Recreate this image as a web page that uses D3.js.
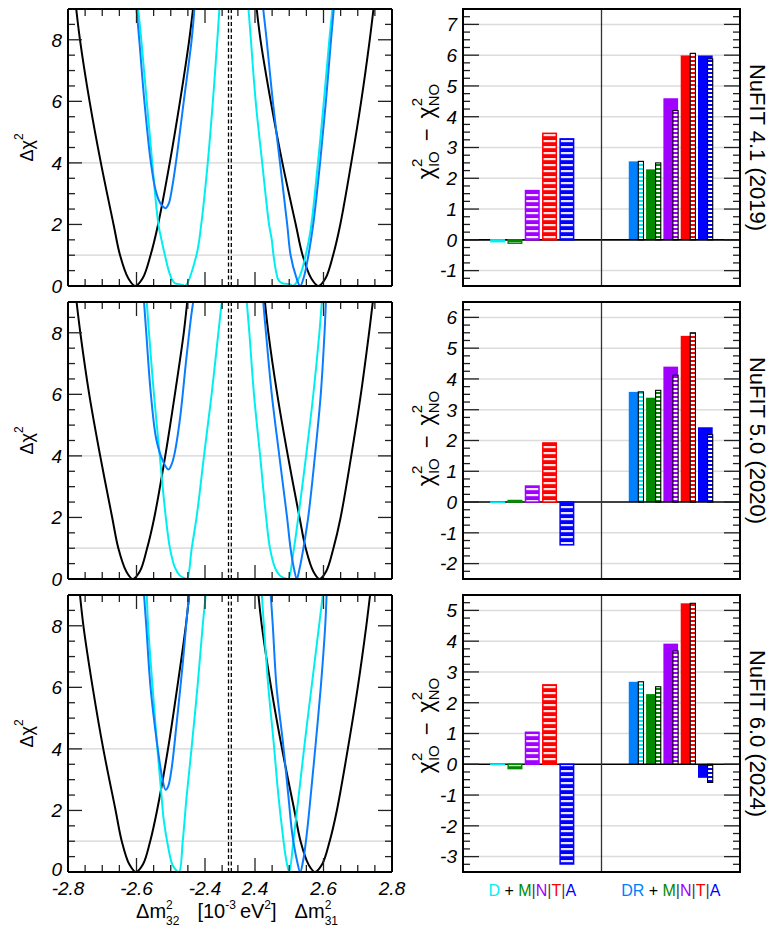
<!DOCTYPE html>
<html>
<head>
<meta charset="utf-8">
<script src="https://cdn.jsdelivr.net/npm/d3@7"></script>
<style>
  body { margin: 0; background: #fff; }
  svg { display: block; }
  text { font-family: "Liberation Sans", Arial, Helvetica, sans-serif; white-space: pre; }
</style>
</head>
<body>
<svg id="chart" width="770" height="930"></svg>
<script>
// ---------- labels ----------
const fitLabels = ["NuFIT 4.1 (2019)", "NuFIT 5.0 (2020)", "NuFIT 6.0 (2024)"];
const chiTicks = [0, 2, 4, 6, 8];
const massTicksIO = [-2.8, -2.6, -2.4];
const massTicksNO = [2.4, 2.6, 2.8];

// ---------- Δχ² profiles: [Δm², Δχ²] ----------
// NuFIT 4.1
const blk41IO = [[-2.776,9],[-2.765,8],[-2.737,6],[-2.704,4],[-2.667,2],[-2.648,1],[-2.624,0.25],[-2.604,0],[-2.582,0.25],[-2.559,1],[-2.537,2],[-2.503,4],[-2.473,6],[-2.446,8],[-2.435,9]];
const cyn41IO = [[-2.595,9],[-2.586,8],[-2.570,6],[-2.554,4],[-2.536,2],[-2.527,1.5],[-2.517,1],[-2.506,0.5],[-2.496,0.2],[-2.488,0.09],[-2.476,0.06],[-2.465,0.03],[-2.458,0],[-2.425,1],[-2.411,2],[-2.392,4],[-2.377,6],[-2.364,8],[-2.358,9]];
const blu41IO = [[-2.600,9],[-2.592,8],[-2.577,6],[-2.558,4],[-2.544,3.1],[-2.531,2.7],[-2.515,2.53],[-2.506,2.67],[-2.497,3.13],[-2.485,4],[-2.462,6],[-2.439,8],[-2.431,9]];
const blk41NO = [[2.405,9],[2.416,8],[2.446,6],[2.480,4],[2.519,2],[2.539,1],[2.564,0.25],[2.585,0],[2.606,0.25],[2.628,1],[2.649,2],[2.681,4],[2.710,6],[2.735,8],[2.746,9]];
const cyn41NO = [[2.381,9],[2.388,8],[2.402,6],[2.421,4],[2.441,2],[2.449,1.5],[2.454,1],[2.461,0.5],[2.468,0.2],[2.477,0.1],[2.490,0.07],[2.503,0.05],[2.511,0],[2.530,0.3],[2.548,1],[2.562,1.8],[2.582,3.8],[2.601,6],[2.617,8],[2.626,9]];
const blu41NO = [[2.424,9],[2.434,8],[2.452,6],[2.473,4],[2.494,2],[2.504,1],[2.520,0.3],[2.532,0],[2.543,0.3],[2.556,1],[2.570,2],[2.590,4],[2.607,6],[2.622,8],[2.630,9]];
// NuFIT 5.0
const blk50IO = [[-2.775,9],[-2.764,8],[-2.738,6],[-2.706,4],[-2.671,2],[-2.653,1],[-2.630,0.25],[-2.611,0],[-2.590,0.25],[-2.569,1],[-2.548,2],[-2.516,4],[-2.488,6],[-2.462,8],[-2.452,9]];
const cyn50IO = [[-2.570,9],[-2.5635,8],[-2.549,6],[-2.532,4],[-2.515,2.06],[-2.502,0.98],[-2.488,0.38],[-2.473,0.11],[-2.458,0.02],[-2.452,0],[-2.439,0.98],[-2.424,2.06],[-2.403,3.99],[-2.381,5.97],[-2.361,8],[-2.351,9]];
const blu50IO = [[-2.578,9],[-2.5715,8],[-2.558,6],[-2.5415,4.5],[-2.5215,3.8],[-2.507,3.56],[-2.497,3.74],[-2.488,4.12],[-2.473,5.21],[-2.4545,7.16],[-2.440,8.57],[-2.4345,9]];
const blk50NO = [[2.429,9],[2.439,8],[2.465,6],[2.496,4],[2.530,2],[2.548,1],[2.570,0.25],[2.588,0],[2.608,0.25],[2.629,1],[2.650,2],[2.681,4],[2.709,6],[2.733,8],[2.744,9]];
const cyn50NO = [[2.376,9],[2.3835,8],[2.397,6],[2.415,4],[2.432,2.06],[2.444,0.98],[2.459,0.35],[2.473,0.11],[2.488,0.02],[2.497,0],[2.512,0.87],[2.527,2.06],[2.549,3.99],[2.570,5.97],[2.588,8],[2.595,9]];
const blu50NO = [[2.424,9],[2.432,8],[2.449,6],[2.471,4],[2.493,2.06],[2.504,0.98],[2.514,0.33],[2.522,0],[2.530,0.33],[2.541,0.98],[2.556,2.06],[2.575,4],[2.592,6],[2.603,8],[2.607,9]];
// NuFIT 6.0
const blk60IO = [[-2.765,9],[-2.755,8],[-2.728,6],[-2.697,4],[-2.661,2],[-2.643,1],[-2.621,0.25],[-2.602,0],[-2.581,0.25],[-2.560,1],[-2.540,2],[-2.508,4],[-2.481,6],[-2.456,8],[-2.446,9]];
const cyn60IO = [[-2.570,9],[-2.566,8],[-2.553,6],[-2.541,4.27],[-2.529,2.74],[-2.520,1.65],[-2.507,0.78],[-2.497,0.29],[-2.488,0.11],[-2.476,0],[-2.465,1],[-2.454,2.42],[-2.439,4.05],[-2.422,6.01],[-2.407,7.97],[-2.398,9]];
const blu60IO = [[-2.578,9],[-2.5715,8],[-2.559,6],[-2.541,4.27],[-2.525,3.07],[-2.515,2.67],[-2.507,2.8],[-2.497,3.4],[-2.483,4.81],[-2.465,6.77],[-2.452,8.4],[-2.446,9]];
const blk60NO = [[2.410,9],[2.420,8],[2.447,6],[2.479,4],[2.515,2],[2.533,1],[2.556,0.25],[2.575,0],[2.596,0.25],[2.618,1],[2.639,2],[2.671,4],[2.700,6],[2.725,8],[2.736,9]];
const cyn60NO = [[2.420,9],[2.426,8],[2.439,6],[2.454,4.27],[2.468,2.52],[2.481,1.22],[2.491,0.4],[2.500,0],[2.512,1],[2.527,2.42],[2.546,4.27],[2.565,6],[2.587,8],[2.598,9]];
const blu60NO = [[2.446,9],[2.452,8],[2.463,6],[2.481,4.27],[2.497,2.52],[2.509,1.22],[2.522,0.4],[2.532,0],[2.541,0.4],[2.551,1.22],[2.563,2.52],[2.578,4.27],[2.592,6],[2.605,8],[2.609,9]];

// ---------- χ²(IO) − χ²(NO) bars ----------
const barSeries = ["D", "M", "N", "T", "A"];
const dmnta41 = [-0.06, -0.11, 1.60, 3.46, 3.28];
const dmnta50 = [-0.01, 0.05, 0.52, 1.92, -1.39];
const dmnta60 = [-0.01, -0.14, 1.04, 2.58, -3.24];
const drSolid41 = [2.55, 2.29, 4.60, 5.99, 5.99];
const drHatch41 = [2.55, 2.50, 4.20, 6.06, 5.88];
const drSolid50 = [3.58, 3.39, 4.40, 5.40, 2.43];
const drHatch50 = [3.58, 3.63, 4.12, 5.50, 2.19];
const drSolid60 = [2.68, 2.28, 3.92, 5.23, -0.44];
const drHatch60 = [2.68, 2.52, 3.68, 5.23, -0.59];
const barRange41 = [-1.5, 7.5];
const barRange50 = [-2.5, 6.5];
const barRange60 = [-3.5, 5.5];

// ---------- colours ----------
const curveColors = ["#000000", "#00eef0", "#0a7dff"];
const hatchColors = ["#00eef0", "#008a00", "#a000ff", "#ff0000", "#0000ff"];
const solidColors = ["#0080ff", "#008a00", "#a000ff", "#ff0000", "#0000ff"];

const rows = [
  { fit: fitLabels[0], io: [blk41IO, cyn41IO, blu41IO], no: [blk41NO, cyn41NO, blu41NO],
    d: dmnta41, drS: drSolid41, drH: drHatch41, range: barRange41, titleShift: -16 },
  { fit: fitLabels[1], io: [blk50IO, cyn50IO, blu50IO], no: [blk50NO, cyn50NO, blu50NO],
    d: dmnta50, drS: drSolid50, drH: drHatch50, range: barRange50, titleShift: -2 },
  { fit: fitLabels[2], io: [blk60IO, cyn60IO, blu60IO], no: [blk60NO, cyn60NO, blu60NO],
    d: dmnta60, drS: drSolid60, drH: drHatch60, range: barRange60, titleShift: -8 }
];

// ---------- layout ----------
const rowTop = [9, 302, 595];
const rowH = 277;
const L0 = 68, Lmid = 228.5, Rmid = 231.3, R1 = 392;     // Δχ² panel
const B0 = 463, B1 = 740;                                  // bar panel
const tickCol = "#222";

const svg = d3.select("#chart");
const defs = svg.append("defs");

// stripe patterns
hatchColors.forEach((c, i) => {
  const p = defs.append("pattern").attr("id", "hd" + i)
    .attr("patternUnits", "userSpaceOnUse").attr("width", 20).attr("height", 6);
  p.append("rect").attr("width", 20).attr("height", 6).attr("fill", c);
  p.append("rect").attr("y", 2).attr("width", 20).attr("height", 2.2).attr("fill", "#fff").attr("opacity", 0.9);
  const q = defs.append("pattern").attr("id", "hr" + i)
    .attr("patternUnits", "userSpaceOnUse").attr("width", 20).attr("height", 4);
  q.append("rect").attr("width", 20).attr("height", 4).attr("fill", c);
  q.append("rect").attr("y", 2).attr("width", 20).attr("height", 2).attr("fill", "#fff");
});

// text made of pieces with super/subscripts; returns group
function rich(parent, segs, x, y, rot, anchor) {
  const g = parent.append("g").attr("transform", `translate(${x},${y}) rotate(${rot})`);
  let cx = 0, lastStart = 0;
  segs.forEach(s => {
    const start = s.stack ? lastStart : cx + (s.dx || 0);
    const t = g.append("text").attr("x", start).attr("y", -(s.up || 0))
      .attr("font-size", s.fs).attr("fill", s.fill || "#000").text(s.t);
    if (s.italic) t.attr("font-style", "italic");
    const w = t.node().getComputedTextLength();
    if (s.stack) cx = Math.max(cx, start + w);
    else { lastStart = start; cx = start + w; }
  });
  const shift = anchor === "middle" ? -cx / 2 : 0;
  g.selectAll("text").attr("x", function () { return +this.getAttribute("x") + shift; });
  return g;
}

rows.forEach((row, r) => {
  const top = rowTop[r], bot = top + rowH;
  const g = svg.append("g");

  // ===== Δχ² panel =====
  const y = d3.scaleLinear([0, 9], [bot, top]);
  const xIO = d3.scaleLinear([-2.8, -2.8 + (Lmid - L0) / 342.5], [L0, Lmid]);
  const xNO = d3.scaleLinear([2.8 - (R1 - Rmid) / 342.5, 2.8], [Rmid, R1]);

  // reference levels
  [1, 4].forEach(v => {
    g.append("line").attr("x1", L0).attr("x2", R1).attr("y1", y(v)).attr("y2", y(v))
      .attr("stroke", "#d4d4d4").attr("stroke-width", 1.2);
  });

  const clipIO = "cio" + r, clipNO = "cno" + r;
  defs.append("clipPath").attr("id", clipIO).append("rect")
    .attr("x", L0).attr("y", top).attr("width", Lmid - L0).attr("height", rowH);
  defs.append("clipPath").attr("id", clipNO).append("rect")
    .attr("x", Rmid).attr("y", top).attr("width", R1 - Rmid).attr("height", rowH);

  const drawCurves = (sets, xs, clip) => {
    const line = d3.line().x(d => xs(d[0])).y(d => y(d[1])).curve(d3.curveCatmullRom.alpha(0.5));
    const cg = g.append("g").attr("clip-path", `url(#${clip})`);
    sets.forEach((pts, k) => {
      cg.append("path").attr("d", line(pts)).attr("fill", "none")
        .attr("stroke", curveColors[k]).attr("stroke-width", 2).attr("stroke-linejoin", "round");
    });
  };
  drawCurves(row.io, xIO, clipIO);
  drawCurves(row.no, xNO, clipNO);

  // y ticks (both sides)
  d3.range(0, 19).map(i => i * 0.5).forEach(v => {
    const major = v % 2 === 0;
    const len = major ? 14 : 7;
    g.append("line").attr("x1", L0).attr("x2", L0 + len).attr("y1", y(v)).attr("y2", y(v))
      .attr("stroke", tickCol).attr("stroke-width", 1.3);
    g.append("line").attr("x1", R1).attr("x2", R1 - len).attr("y1", y(v)).attr("y2", y(v))
      .attr("stroke", tickCol).attr("stroke-width", 1.3);
  });
  chiTicks.forEach(v => {
    g.append("text").attr("x", L0 - 6).attr("y", y(v)).attr("dy", v === 0 && r === 2 ? "0.2em" : "0.36em")
      .attr("text-anchor", "end").attr("font-size", 19).attr("font-style", "italic").text(v);
  });

  // x ticks (top and bottom)
  const xTick = (xs, v, major) => {
    const len = major ? 14 : 7;
    [[bot, -1], [top, 1]].forEach(([yy, dir]) => {
      g.append("line").attr("x1", xs(v)).attr("x2", xs(v)).attr("y1", yy).attr("y2", yy + dir * len)
        .attr("stroke", tickCol).attr("stroke-width", 1.3);
    });
  };
  d3.range(1, 10).forEach(i => {
    const v = -2.8 + i * 0.05;
    xTick(xIO, v, Math.abs(v - Math.round(v * 5) / 5) < 1e-6);
  });
  d3.range(0, 9).forEach(i => {
    const v = 2.35 + i * 0.05;
    xTick(xNO, v, Math.abs(v - Math.round(v * 5) / 5) < 1e-6);
  });

  // frame
  g.append("line").attr("x1", L0).attr("x2", R1).attr("y1", top).attr("y2", top).attr("stroke", "#000").attr("stroke-width", 2);
  g.append("line").attr("x1", L0).attr("x2", R1).attr("y1", bot).attr("y2", bot).attr("stroke", "#000").attr("stroke-width", 2);
  g.append("line").attr("x1", L0).attr("x2", L0).attr("y1", top).attr("y2", bot).attr("stroke", "#000").attr("stroke-width", 2);
  g.append("line").attr("x1", R1).attr("x2", R1).attr("y1", top).attr("y2", bot).attr("stroke", "#000").attr("stroke-width", 2);
  [Lmid, Rmid].forEach(xx => {
    g.append("line").attr("x1", xx).attr("x2", xx).attr("y1", top).attr("y2", bot)
      .attr("stroke", "#000").attr("stroke-width", 1.3).attr("stroke-dasharray", "4,2.5");
  });

  // axis title Δχ²
  rich(g, [{ t: "Δχ", fs: 18 }, { t: "2", fs: 12, up: 10 }], 33, (top + bot) / 2, -90, "middle");

  if (r === 2) {
    massTicksIO.forEach(v => {
      g.append("text").attr("x", xIO(v)).attr("y", bot + 23).attr("text-anchor", "middle")
        .attr("font-size", 19).attr("font-style", "italic").text(v.toFixed(1));
    });
    massTicksNO.forEach(v => {
      g.append("text").attr("x", xNO(v)).attr("y", bot + 23).attr("text-anchor", "middle")
        .attr("font-size", 19).attr("font-style", "italic").text(v.toFixed(1));
    });
    rich(g, [
      { t: "Δm", fs: 20 }, { t: "2", fs: 12, up: 9 }, { t: "32", fs: 12, up: -7, stack: true },
      { t: "[10", fs: 20, dx: 18 }, { t: "-3", fs: 12, up: 9 },
      { t: "eV", fs: 20, dx: 4 }, { t: "2", fs: 12, up: 9 }, { t: "]", fs: 20 },
      { t: "Δm", fs: 20, dx: 18 }, { t: "2", fs: 12, up: 9 }, { t: "31", fs: 12, up: -7, stack: true }
    ], 237, bot + 46, 0, "middle");
  }

  // ===== bar panel =====
  const xb = d3.scaleLinear([0, 16], [B0, B1]);
  const yb = d3.scaleLinear(row.range, [bot, top]);
  const intTicks = d3.range(Math.ceil(row.range[0]), Math.floor(row.range[1]) + 1);

  intTicks.filter(v => v !== 0).forEach(v => {
    g.append("line").attr("x1", B0).attr("x2", B1).attr("y1", yb(v)).attr("y2", yb(v))
      .attr("stroke", "#dcdcdc").attr("stroke-width", 1.5);
  });

  // DR + M|N|T|A : solid bars with narrow striped companions
  row.drS.forEach((v, i) => {
    const cx = xb(10 + i), w = xb(0.85) - xb(0);
    g.append("rect").attr("x", cx - w / 2).attr("y", yb(Math.max(0, v)))
      .attr("width", w).attr("height", Math.abs(yb(v) - yb(0))).attr("fill", solidColors[i]);
  });
  row.drH.forEach((v, i) => {
    const right = xb(10 + i) + (xb(0.85) - xb(0)) / 2, w = xb(0.3) - xb(0);
    g.append("rect").attr("x", right - w).attr("y", yb(Math.max(0, v)))
      .attr("width", w).attr("height", Math.abs(yb(v) - yb(0)))
      .attr("fill", `url(#hr${i})`).attr("stroke", "#000").attr("stroke-width", 1.1);
  });

  // zero line and divider
  g.append("line").attr("x1", B0).attr("x2", B1).attr("y1", yb(0)).attr("y2", yb(0))
    .attr("stroke", "#000").attr("stroke-width", 1.6);
  g.append("line").attr("x1", xb(8)).attr("x2", xb(8)).attr("y1", top).attr("y2", bot)
    .attr("stroke", "#333").attr("stroke-width", 1.3);

  // D + M|N|T|A : hatched bars (kept above the zero line so tiny values stay visible)
  row.d.forEach((v, i) => {
    const cx = xb(2 + i), w = xb(0.78) - xb(0);
    const y0 = yb(Math.max(0, v)), h = Math.abs(yb(v) - yb(0));
    g.append("rect").attr("x", cx - w / 2).attr("y", y0).attr("width", w).attr("height", h)
      .attr("fill", `url(#hd${i})`).attr("stroke", hatchColors[i]).attr("stroke-width", 1.5);
  });

  // ticks
  d3.range(Math.ceil(row.range[0] * 4), Math.floor(row.range[1] * 4) + 1).map(k => k / 4).forEach(v => {
    const major = Number.isInteger(v);
    const len = major ? 16 : 7;
    g.append("line").attr("x1", B0).attr("x2", B0 + len).attr("y1", yb(v)).attr("y2", yb(v))
      .attr("stroke", tickCol).attr("stroke-width", 1.3);
    g.append("line").attr("x1", B1).attr("x2", B1 - len).attr("y1", yb(v)).attr("y2", yb(v))
      .attr("stroke", tickCol).attr("stroke-width", 1.3);
  });
  intTicks.forEach(v => {
    g.append("text").attr("x", B0 - 6).attr("y", yb(v)).attr("dy", "0.36em")
      .attr("text-anchor", "end").attr("font-size", 19).attr("font-style", "italic").text(v);
  });

  g.append("rect").attr("x", B0).attr("y", top).attr("width", B1 - B0).attr("height", rowH)
    .attr("fill", "none").attr("stroke", "#000").attr("stroke-width", 2);

  // titles
  rich(g, [
    { t: "χ", fs: 23 }, { t: "2", fs: 15, up: 12 }, { t: "IO", fs: 15, up: -5, stack: true },
    { t: "−", fs: 22, dx: 10 },
    { t: "χ", fs: 23, dx: 10 }, { t: "2", fs: 15, up: 12 }, { t: "NO", fs: 15, up: -5, stack: true }
  ], 434, (top + bot) / 2 + row.titleShift, -90, "middle");

  rich(g, [{ t: row.fit, fs: 22 }], 750, (top + bot) / 2, 90, "middle");

  if (r === 2) {
    const leg = (cx, first, firstCol) => rich(g, [
      { t: first, fs: 16, fill: firstCol }, { t: " + ", fs: 16 },
      { t: "M", fs: 16, fill: hatchColors[1] }, { t: "|", fs: 16, fill: "#444" },
      { t: "N", fs: 16, fill: hatchColors[2] }, { t: "|", fs: 16, fill: "#444" },
      { t: "T", fs: 16, fill: hatchColors[3] }, { t: "|", fs: 16, fill: "#444" },
      { t: "A", fs: 16, fill: hatchColors[4] }
    ], cx, bot + 24, 0, "middle");
    leg(xb(4), "D", hatchColors[0]);
    leg(xb(12), "DR", solidColors[0]);
  }
});
</script>
</body>
</html>
